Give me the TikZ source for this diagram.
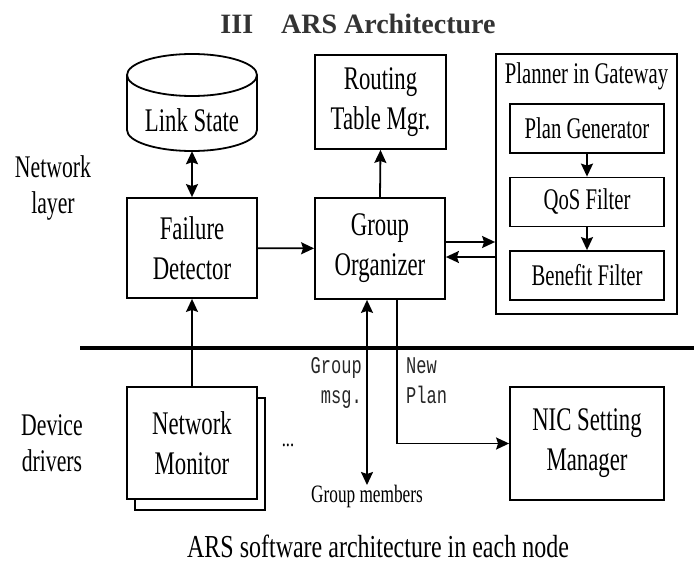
\documentclass[tikz,border=0pt]{standalone}
\usepackage{fontspec}
\setmainfont{Liberation Serif}
\newfontfamily\boxfont{Liberation Serif}[FakeStretch=0.69]
\newfontfamily\capfont{Liberation Serif}[FakeStretch=0.75]
\newfontfamily\titlefont{Liberation Serif Bold}
\newfontfamily\monofnt{Liberation Mono}[FakeStretch=0.71]
\usetikzlibrary{arrows.meta}
\tikzset{
  boxline/.style={line width=1.8pt},
  tip/.tip={Stealth[length=13pt,width=12pt,inset=2pt]},
  bigtext/.style={align=center, font={\boxfont\fontsize{33}{40}\selectfont}, inner sep=0pt},
  blk/.style={draw, boxline, fill=white, bigtext},
  innerbox/.style={draw, boxline, fill=white, align=center, font={\boxfont\fontsize{30}{35}\selectfont}, inner sep=0pt, minimum width=154pt, minimum height=49pt},
  sidelbl/.style={align=center, font={\boxfont\fontsize{31.5}{36}\selectfont}, inner sep=0pt},
  ttlbl/.style={font={\monofnt\fontsize{24}{30}\selectfont}, inner sep=0pt, text=black!85},
  arr/.style={line width=1.8pt, -tip},
  darr/.style={line width=1.8pt, tip-tip},
}
\begin{document}
\begin{tikzpicture}[x=1pt,y=-1pt]
\useasboundingbox (0,0) rectangle (694,567);
% title
\node[font={\titlefont\fontsize{28}{34}\selectfont}, text=black!80, anchor=base, inner sep=0pt] (title) at (358,34) {III\hspace{28pt}ARS Architecture};
% Link State cylinder
\node[minimum width=130pt, minimum height=97pt, inner sep=0pt] (lsb) at (192,102.5) {};
\draw[boxline] (127,75) -- (127,130) arc[start angle=180, end angle=0, x radius=65, y radius=21] -- (257,75);
\draw[boxline] (192,75) ellipse[x radius=65, y radius=21];
\node[bigtext] (ls) at (192,120) {Link State};
% top boxes
\node[blk, minimum width=131pt, minimum height=94pt] (rt) at (380.5,102) {Routing\\Table Mgr.};
\node[blk, minimum width=130pt, minimum height=100pt] (fd) at (192,248) {Failure\\Detector};
\node[blk, minimum width=130pt, minimum height=101pt] (go) at (380,248.5) {Group\\Organizer};
% planner
\node[draw, boxline, minimum width=181pt, minimum height=260pt, inner sep=0pt] (pl) at (586.5,184) {};
\node[font={\boxfont\fontsize{30}{35}\selectfont}, inner sep=0pt] (plt) at (586.5,76) {Planner in Gateway};
\node[innerbox] (pg) at (587,128.5) {Plan Generator};
\node[innerbox] (qf) at (587,202) {QoS Filter};
\node[innerbox] (bf) at (587,275.5) {Benefit Filter};
\draw[arr] (pg) -- (qf);
\draw[arr] (qf) -- (bf);
% connectors upper
\draw[darr] (fd.north) -- (lsb.south);
\draw[arr] (go.north) -- (rt.south);
\draw[arr] (fd) -- (go);
\coordinate (ga) at ([yshift=6.5pt]go.east);
\coordinate (gb) at ([yshift=-8.5pt]go.east);
\draw[arr] (ga) -- (ga -| pl.west);
\draw[arr] (gb -| pl.west) -- (gb);
% separator
\coordinate (s1) at (80,348);
\coordinate (s2) at (694,348);
\draw[line width=4pt] (s1) -- (s2);
% side labels
\node[sidelbl] (nl) at (53,188) {Network\\layer};
\node[sidelbl] (dd) at (52,443) {Device\\drivers};
% network monitor with shadow
\draw[boxline, fill=white] (135,398) rectangle (265,510);
\node[blk, minimum width=130pt, minimum height=112pt] (nm) at (192,443) {Network\\Monitor};
\node[font={\boxfont\fontsize{24}{28}\selectfont}, inner sep=0pt] (dots) at (288,445) {...};
\node[blk, minimum width=154pt, minimum height=113pt] (nic) at (587,443.5) {NIC Setting\\Manager};
\draw[arr] (nm) -- (fd);
% group members
\node[font={\boxfont\fontsize{25}{30}\selectfont}, anchor=north, inner sep=0pt] (gmt) at (367,485) {Group members};
\draw[darr] (go.south -| gmt.north) -- (gmt.north);
\coordinate (np) at (397,443);
\draw[arr] (go.south -| np) |- (nic.west);
\node[ttlbl, anchor=base east] (g1) at (362,373) {Group};
\node[ttlbl, anchor=base east] (g2) at (362,403) {msg.};
\node[ttlbl, anchor=base west] (n1) at (406,373) {New};
\node[ttlbl, anchor=base west] (n2) at (406,403) {Plan};
% caption
\node[font={\capfont\fontsize{32}{38}\selectfont}, anchor=base, inner sep=0pt] (cap) at (378,557) {ARS software architecture in each node};
\end{tikzpicture}
\end{document}
